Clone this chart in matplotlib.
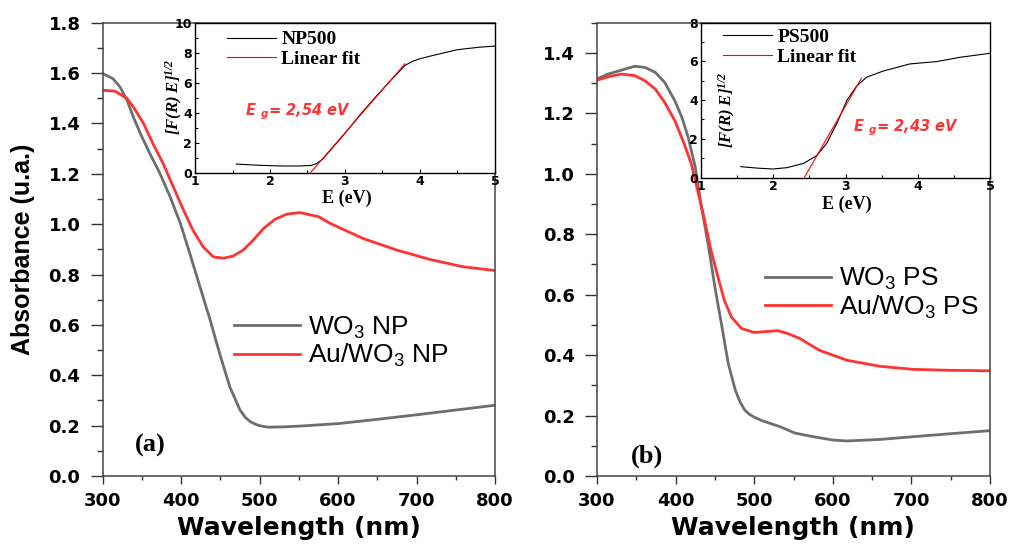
import matplotlib
matplotlib.use('Agg')
import matplotlib.pyplot as plt
from matplotlib.ticker import MultipleLocator, FormatStrFormatter

# ---- (a) WO3 NP / Au-WO3 NP absorbance ----
wl_np = [300, 313, 322, 331, 339, 348, 360, 373, 386, 399, 411, 424, 437, 449,
         462, 475, 482, 488, 495, 500, 510, 530, 550, 600, 650, 700, 750, 800]
abs_np = [1.598, 1.578, 1.545, 1.492, 1.426, 1.360, 1.281, 1.201, 1.108, 1.003,
          0.884, 0.751, 0.619, 0.487, 0.354, 0.262, 0.232, 0.216, 0.205, 0.200,
          0.194, 0.195, 0.198, 0.208, 0.225, 0.243, 0.262, 0.281]

wl_au_np = [300, 316, 331, 339, 352, 364, 377, 390, 403, 415, 428, 441, 454, 466,
            479, 492, 505, 520, 535, 551, 575, 590, 632, 675, 717, 759, 800]
abs_au_np = [1.532, 1.528, 1.499, 1.466, 1.400, 1.320, 1.241, 1.148, 1.056, 0.976,
             0.910, 0.870, 0.865, 0.873, 0.897, 0.937, 0.983, 1.020, 1.040, 1.046,
             1.030, 1.003, 0.943, 0.897, 0.860, 0.831, 0.816]

# ---- (b) WO3 PS / Au-WO3 PS absorbance ----
wl_ps = [300, 314, 331, 348, 361, 374, 386, 399, 408, 416, 425, 433, 442, 450,
         459, 467, 476, 482, 488, 494, 500, 510, 533, 552, 575, 600, 618, 660,
         702, 745, 800]
abs_ps = [1.314, 1.330, 1.343, 1.356, 1.352, 1.336, 1.303, 1.242, 1.187, 1.121,
          1.022, 0.890, 0.758, 0.625, 0.493, 0.372, 0.284, 0.245, 0.218, 0.204,
          0.195, 0.183, 0.163, 0.142, 0.130, 0.119, 0.116, 0.121, 0.130, 0.139,
          0.150]

wl_au_ps = [300, 314, 331, 348, 361, 374, 386, 399, 411, 420, 428, 437, 445, 454,
            462, 471, 484, 500, 515, 530, 543, 558, 583, 618, 660, 702, 745, 800]
abs_au_ps = [1.310, 1.321, 1.330, 1.325, 1.308, 1.281, 1.237, 1.176, 1.099, 1.033,
             0.945, 0.846, 0.747, 0.658, 0.581, 0.526, 0.488, 0.475, 0.478, 0.481,
             0.471, 0.455, 0.416, 0.383, 0.363, 0.353, 0.350, 0.348]

# ---- insets: Tauc plots ----
e_np500 = [1.55, 1.8, 2.0, 2.2, 2.4, 2.55, 2.62, 2.7, 2.85, 3.0, 3.2, 3.4, 3.6,
           3.8, 3.9, 4.0, 4.2, 4.5, 4.8, 5.0]
f_np500 = [0.57, 0.50, 0.46, 0.44, 0.44, 0.48, 0.60, 0.88, 1.75, 2.62, 3.85, 5.0,
           6.1, 7.15, 7.42, 7.6, 7.85, 8.2, 8.37, 8.44]
fit_e_np = [2.52, 3.80]
fit_f_np = [-0.12, 7.26]

e_ps500 = [1.55, 1.8, 2.0, 2.19, 2.42, 2.6, 2.74, 2.88, 3.02, 3.155, 3.29, 3.52,
           3.89, 4.26, 4.58, 5.0]
f_ps500 = [0.56, 0.48, 0.44, 0.51, 0.73, 1.13, 1.77, 2.80, 4.0, 4.73, 5.18, 5.50,
           5.87, 5.99, 6.21, 6.42]
fit_e_ps = [2.43, 3.22]
fit_f_ps = [0.0, 5.13]

plt.rcParams['font.family'] = ['DejaVu Sans']
plt.rcParams['font.weight'] = 'bold'
plt.rcParams['mathtext.default'] = 'regular'

GRAY = '#6e6e6e'
RED = '#ff3333'
SERIF = 'Liberation Serif'

fig = plt.figure(figsize=(10.12, 5.46), dpi=100)


def main_axes(rect, ymax):
    ax = fig.add_axes(rect)
    ax.set_xlim(300, 800)
    ax.set_ylim(0, ymax)
    ax.xaxis.set_major_locator(MultipleLocator(100))
    ax.xaxis.set_minor_locator(MultipleLocator(50))
    ax.yaxis.set_major_locator(MultipleLocator(0.2))
    ax.yaxis.set_minor_locator(MultipleLocator(0.1))
    ax.yaxis.set_major_formatter(FormatStrFormatter('%.1f'))
    ax.tick_params(axis='y', which='major', direction='out', length=9, width=1,
                   pad=7, labelsize=13, colors='#333333', labelcolor='black')
    ax.tick_params(axis='y', which='minor', direction='out', length=4.5, width=1,
                   colors='#333333')
    ax.tick_params(axis='x', which='major', direction='out', length=5.5, width=1,
                   pad=6, labelsize=13, colors='#333333', labelcolor='black')
    ax.tick_params(axis='x', which='minor', direction='out', length=3, width=1,
                   colors='#333333')
    for s in ax.spines.values():
        s.set_color('#444444')
        s.set_linewidth(1.1)
    return ax


def inset(rect, ymax, e, f, fe, ff, name):
    ins = fig.add_axes(rect)
    ins.set_facecolor('white')
    ins.plot(e, f, color='black', lw=0.8, label=name)
    ins.plot(fe, ff, color='red', lw=0.8, label='Linear fit')
    ins.set_xlim(1, 5)
    ins.set_ylim(0, ymax)
    ins.xaxis.set_major_locator(MultipleLocator(1))
    ins.xaxis.set_minor_locator(MultipleLocator(0.5))
    ins.yaxis.set_major_locator(MultipleLocator(2))
    ins.yaxis.set_minor_locator(MultipleLocator(1))
    ins.tick_params(which='major', direction='in', length=3, width=0.8,
                    labelsize=9, pad=2)
    ins.tick_params(which='minor', direction='in', length=2, width=0.8)
    for s in ins.spines.values():
        s.set_linewidth(1.0)
    return ins


legend_main = dict(loc='center left', bbox_transform=fig.transFigure,
                   frameon=False,
                   prop=dict(family='Liberation Sans', weight='normal', size=19),
                   handlelength=2.5, handletextpad=0.3, labelspacing=0.05,
                   borderpad=0, borderaxespad=0)
legend_ins = dict(loc='center left', bbox_transform=fig.transFigure,
                  frameon=False, prop=dict(family=SERIF, weight='bold', size=14),
                  handlelength=2.5, handletextpad=0.3, labelspacing=0.1,
                  borderpad=0, borderaxespad=0)

# panel (a)
ax1 = main_axes([0.1015, 0.1282, 0.3876, 0.8302], 1.8)
ax1.plot(wl_np, abs_np, color=GRAY, lw=2.0, label='WO$_3$ NP')
ax1.plot(wl_au_np, abs_au_np, color=RED, lw=2.0, label='Au/WO$_3$ NP')
ax1.legend(bbox_to_anchor=(0.2312, 0.3736), **legend_main)

# panel (b)
ax2 = main_axes([0.5899, 0.1282, 0.3884, 0.8302], 1.5)
ax2.plot(wl_ps, abs_ps, color=GRAY, lw=2.0, label='WO$_3$ PS')
ax2.plot(wl_au_ps, abs_au_ps, color=RED, lw=2.0, label='Au/WO$_3$ PS')
ax2.legend(bbox_to_anchor=(0.7559, 0.4625), **legend_main)

# insets
in1 = inset([0.1927, 0.6839, 0.2964, 0.2745], 10, e_np500, f_np500,
            fit_e_np, fit_f_np, 'NP500')
in1.legend(bbox_to_anchor=(0.2243, 0.9097), **legend_ins)
in1.text(-0.067, 0.504, '[F(R) E]$^{1/2}$', rotation=90, transform=in1.transAxes,
         family=SERIF, style='italic', weight='bold', size=12,
         ha='center', va='center')
in1.text(0.507, -0.175, 'E (eV)', transform=in1.transAxes, family=SERIF,
         weight='bold', size=13, ha='center', va='center')

in2 = inset([0.6927, 0.6749, 0.2856, 0.2835], 8, e_ps500, f_ps500,
            fit_e_ps, fit_f_ps, 'PS500')
in2.legend(bbox_to_anchor=(0.7144, 0.9139), **legend_ins)
in2.text(0.093, 0.436, '[F(R) E]$^{1/2}$', rotation=90, transform=in2.transAxes,
         family=SERIF, style='italic', weight='bold', size=12,
         ha='center', va='center')
in2.text(0.505, -0.175, 'E (eV)', transform=in2.transAxes, family=SERIF,
         weight='bold', size=13, ha='center', va='center')

# band gap annotations
fig.text(0.242, 0.795, 'E $_{g}$= 2,54 eV', color=RED, style='italic',
         weight='bold', size=10.5, ha='left', va='center')
fig.text(0.843, 0.7656, 'E $_{g}$= 2,43 eV', color=RED, style='italic',
         weight='bold', size=10.5, ha='left', va='center')

# panel labels
fig.text(0.148, 0.185, '(a)', family=SERIF, weight='bold', size=19,
         ha='center', va='center')
fig.text(0.6397, 0.1648, '(b)', family=SERIF, weight='bold', size=19,
         ha='center', va='center')

# axis titles
fig.text(0.2953, 0.033, 'Wavelength (nm)', size=18, weight='bold',
         ha='center', va='center')
fig.text(0.784, 0.033, 'Wavelength (nm)', size=18, weight='bold',
         ha='center', va='center')
fig.text(0.0227, 0.543, 'Absorbance (u.a.)', rotation=90,
         family='Liberation Sans', weight='bold', size=18,
         ha='center', va='center')

fig.savefig('out.png', dpi=100)
